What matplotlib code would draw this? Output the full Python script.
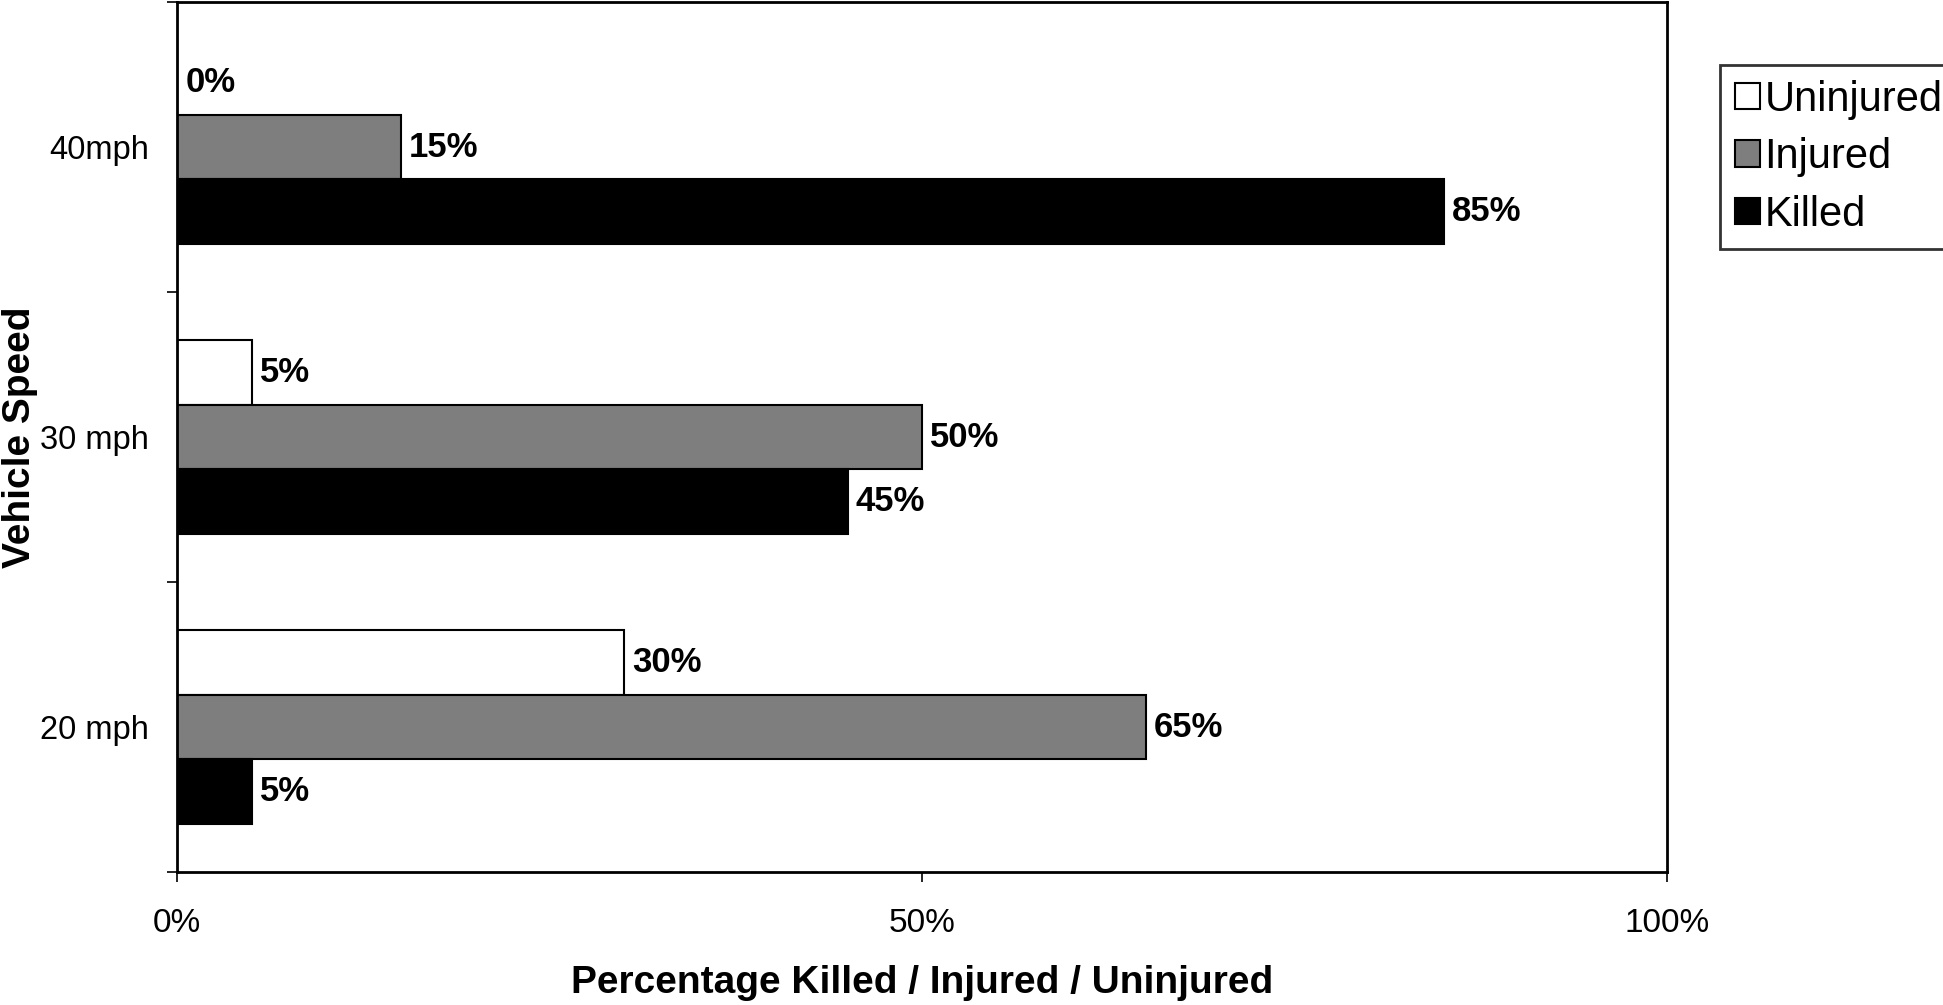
import matplotlib
matplotlib.use("Agg")
import matplotlib.pyplot as plt
import numpy as np

plt.rcParams['font.family'] = ['Liberation Sans', 'DejaVu Sans']

categories = ["20 mph", "30 mph", "40mph"]
series_names = ["Uninjured", "Injured", "Killed"]
uninjured = [30, 5, 0]
injured = [65, 50, 15]
killed = [5, 45, 85]
x_ticks = [0, 50, 100]
x_tick_labels = ["0%", "50%", "100%"]

fig = plt.figure(figsize=(19.43, 10.05), dpi=100)
ax = fig.add_axes([177/1943, 1-872/1005, (1667-177)/1943, (872-2)/1005])

y = np.arange(len(categories))
h = 0.222
series = [uninjured, injured, killed]
offsets = [h, 0, -h]
faces = ["white", "#7e7e7e", "black"]
for vals, off, fc, name in zip(series, offsets, faces, series_names):
    bars = ax.barh(y + off, vals, height=h, color=fc, edgecolor="black",
                   linewidth=1.5, label=name)
    for b, v in zip(bars, vals):
        ax.annotate(f"{v}%", (v, b.get_y() + b.get_height()/2),
                    xytext=(6, 0), textcoords="offset points",
                    ha="left", va="center", fontsize=25, fontweight="bold")

ax.set_xlim(0, 100)
ax.set_ylim(-0.5, 2.5)
ax.set_xticks(x_ticks)
ax.set_xticklabels(x_tick_labels, fontsize=24)
ax.set_yticks(y)
ax.set_yticklabels(categories, fontsize=23.5)
ax.set_yticks([-0.5, 0.5, 1.5, 2.5], minor=True)
ax.tick_params(axis="y", which="major", length=0, pad=20)
ax.tick_params(axis="y", which="minor", length=7, width=1.2)
ax.tick_params(axis="x", which="major", length=7, width=1.2, pad=19)
for s in ax.spines.values():
    s.set_linewidth(2)

ax.set_xlabel("Percentage Killed / Injured / Uninjured", fontsize=28,
              fontweight="bold")
ax.xaxis.label.set_va("center")
ax.xaxis.set_label_coords(0.5, -(983-872)/870)
ax.set_ylabel("Vehicle Speed", fontsize=28, fontweight="bold")
ax.yaxis.label.set_va("center")
ax.yaxis.set_label_coords((20-177)/1490, 0.5)

handles, labels = ax.get_legend_handles_labels()
leg = fig.legend(handles, labels, loc="upper left",
                 bbox_to_anchor=(1720/1943, 1-65/1005), fontsize=30,
                 frameon=True, fancybox=False, edgecolor="black",
                 handlelength=0.6, handleheight=0.6, handletextpad=0.12,
                 borderpad=0.35, labelspacing=0.42, borderaxespad=0)
leg.get_frame().set_linewidth(2)

fig.savefig("out.png", dpi=100, facecolor="white")
